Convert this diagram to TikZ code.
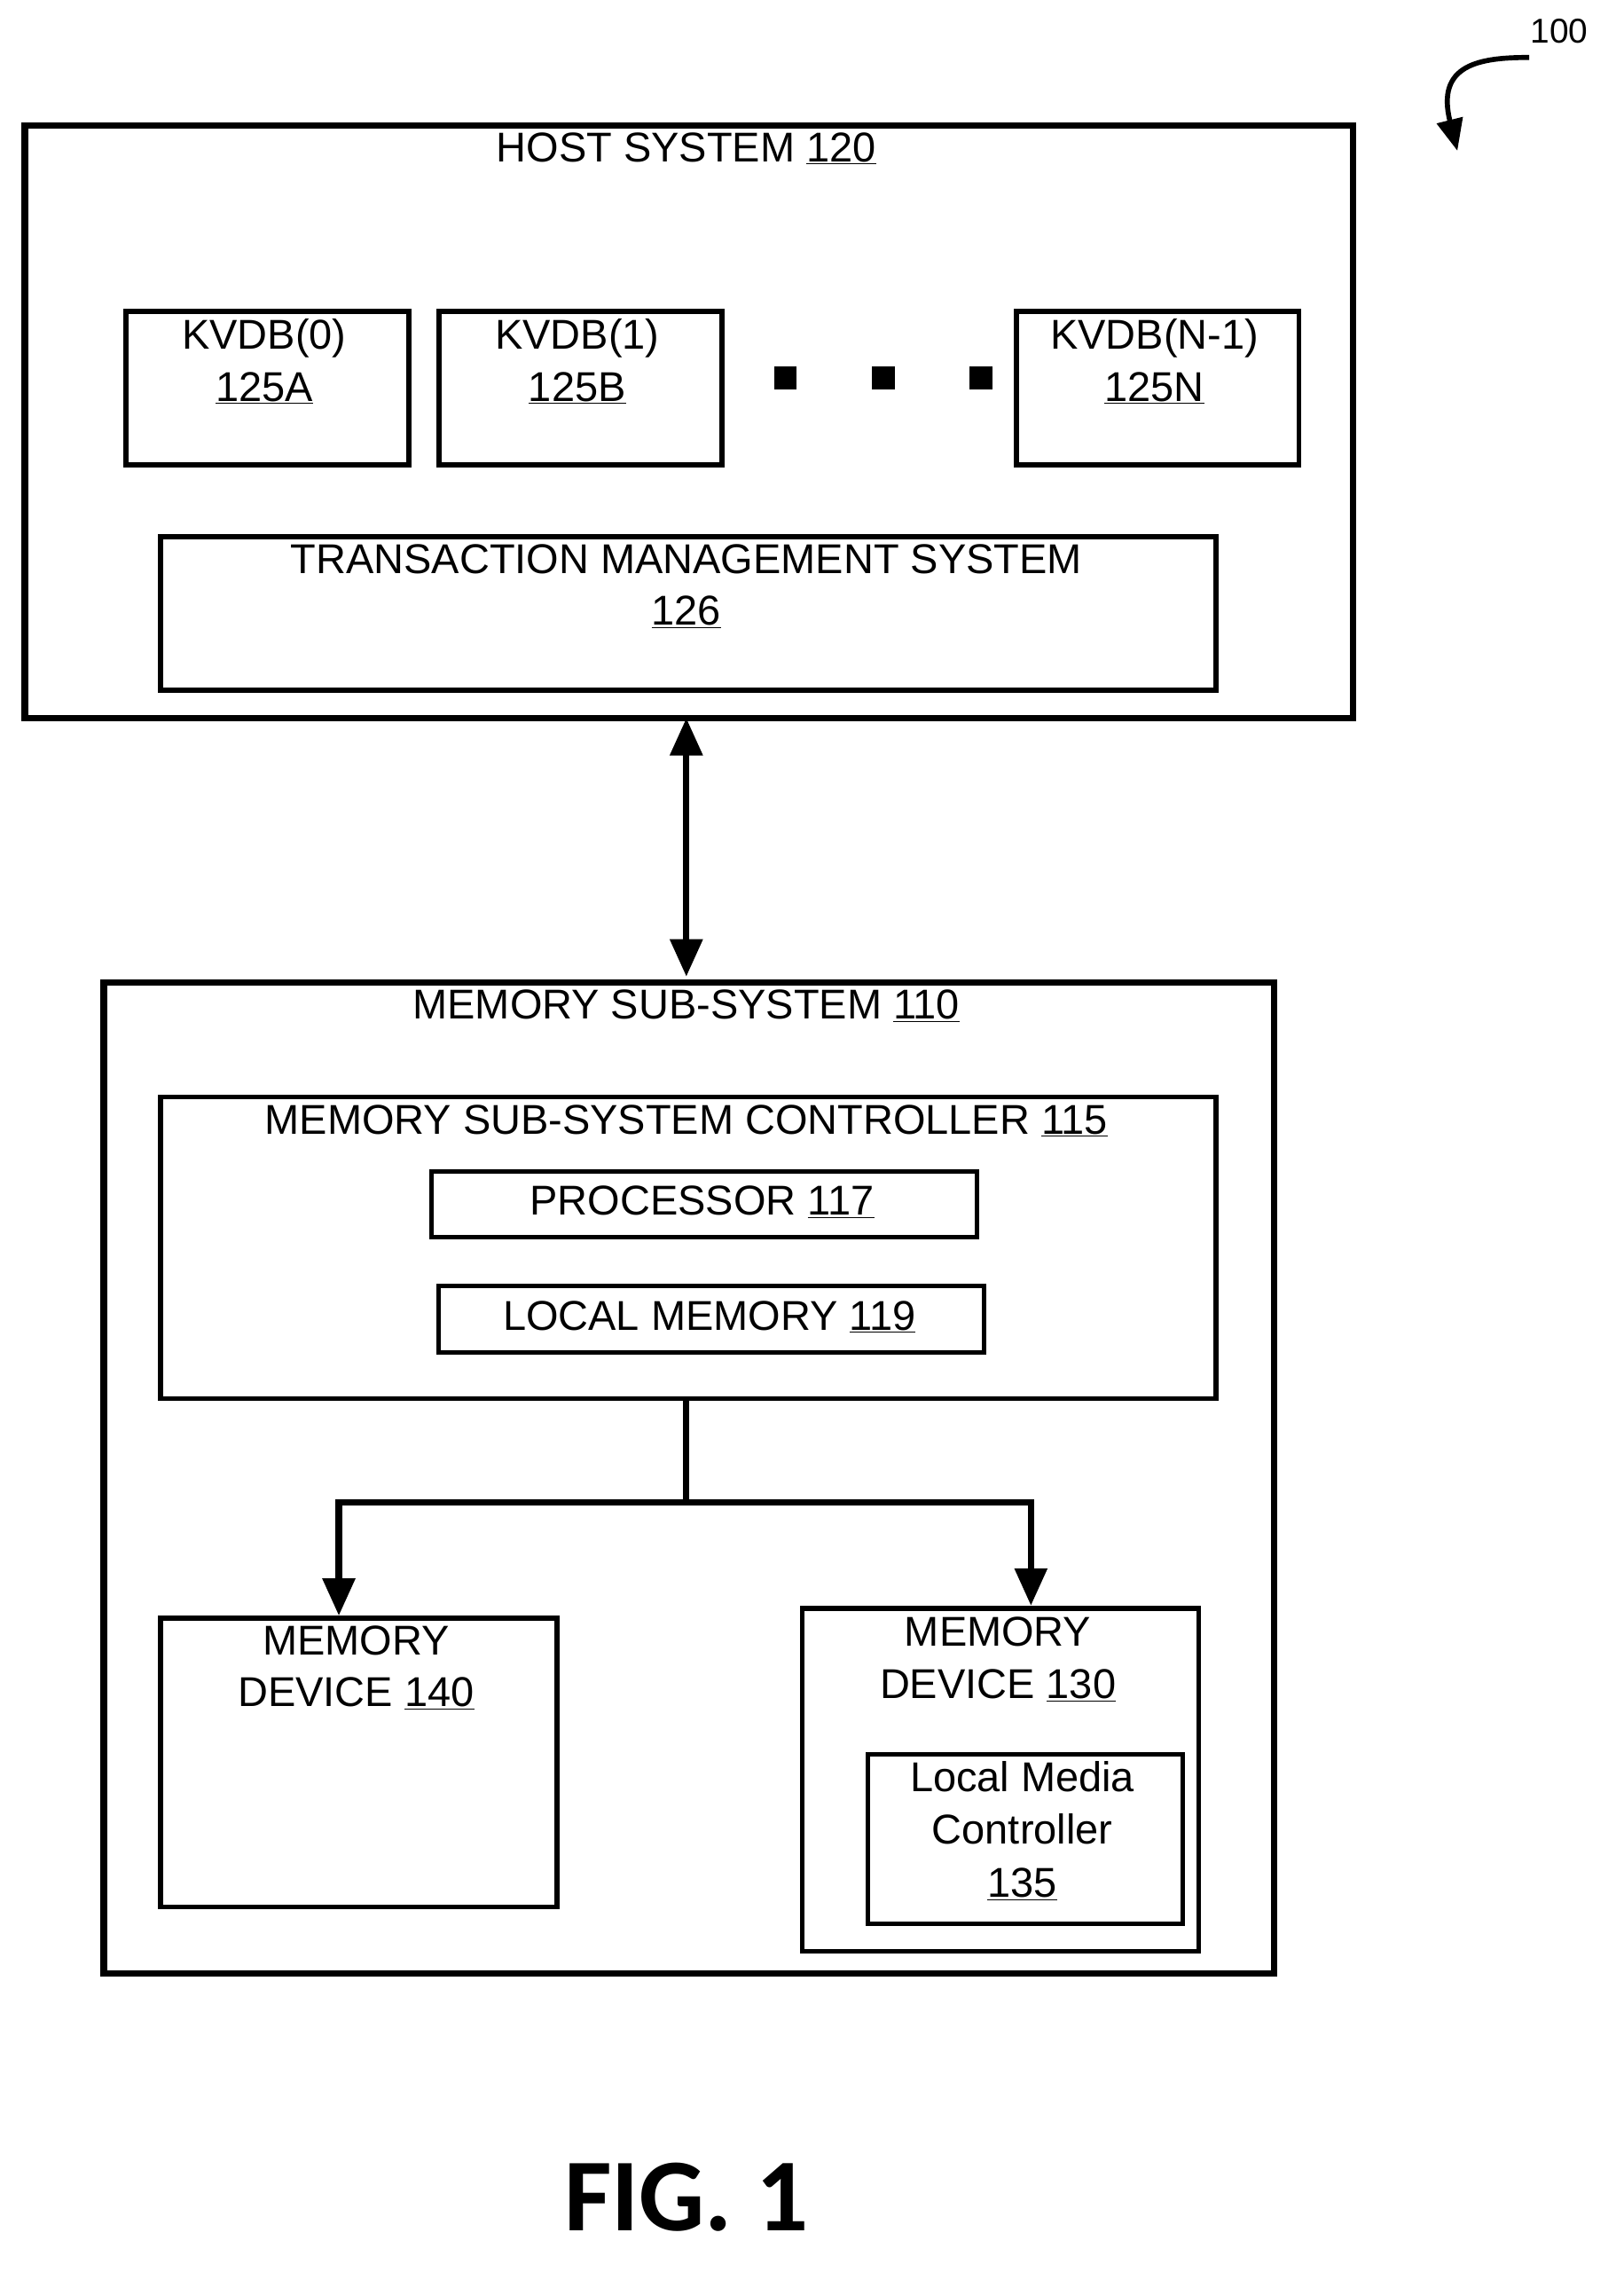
\documentclass[tikz,border=0pt]{standalone}
\usepackage{fontspec}
\setmainfont{Liberation Sans}
\newfontfamily\figfont{Carlito}
\usetikzlibrary{arrows.meta}
\newcommand{\ul}[1]{\underline{#1}}
\begin{document}
\begin{tikzpicture}[x=1pt,y=-1pt,
  box/.style={draw,line width=4.5pt},
  sbox/.style={draw,line width=3.5pt},
  lbl/.style={font=\fontsize{29}{36}\selectfont,align=center,inner sep=0pt},
  conn/.style={line width=4.5pt},
  arr/.style={conn,-{Triangle[length=26pt,width=22pt]}}]
\useasboundingbox (0,0) rectangle (1131,1582);
\node[box,minimum width=925pt,minimum height=413pt,anchor=north west] (host) at (15,85) {};
\node[lbl,anchor=north] (hostl) at (478,92) {HOST SYSTEM \ul{120}};
\foreach \n/\x/\t/\s in {k0/86/KVDB(0)/125A,k1/304/KVDB(1)/125B,kn/706/KVDB(N-1)/125N}
  \node[sbox,minimum width=197pt,minimum height=107pt,anchor=north west] (\n) at (\x,215) {};
\node[lbl,anchor=north] at (184,222) {KVDB(0)\\\ul{125A}};
\node[lbl,anchor=north] at (402,222) {KVDB(1)\\\ul{125B}};
\node[lbl,anchor=north] at (804,222) {KVDB(N-1)\\\ul{125N}};
\foreach \x in {547,615,683} \fill (\x-8,255) rectangle (\x+8,271);
\node[sbox,minimum width=735pt,minimum height=107pt,anchor=north west] (tms) at (110,372) {};
\node[lbl,anchor=north] at (478,379) {TRANSACTION MANAGEMENT SYSTEM\\\ul{126}};
\node[box,minimum width=815pt,minimum height=690pt,anchor=north west] (mss) at (70,682) {};
\node[lbl,anchor=north] at (478,689) {MEMORY SUB-SYSTEM \ul{110}};
\node[sbox,minimum width=735pt,minimum height=210pt,anchor=north west] (ctl) at (110,762) {};
\node[lbl,anchor=north] at (478,769) {MEMORY SUB-SYSTEM CONTROLLER \ul{115}};
\node[sbox,line width=3pt,minimum width=380pt,minimum height=46pt,anchor=north west] (proc) at (299,814) {};
\node[lbl,anchor=center] at (489,837) {PROCESSOR \ul{117}};
\node[sbox,line width=3pt,minimum width=380pt,minimum height=46pt,anchor=north west] (lm) at (304,894) {};
\node[lbl,anchor=center] at (494,917) {LOCAL MEMORY \ul{119}};
\node[sbox,minimum width=276pt,minimum height=201pt,anchor=north west] (md140) at (110,1125) {};
\node[lbl,anchor=north] at (248,1132) {MEMORY\\DEVICE \ul{140}};
\node[sbox,minimum width=276pt,minimum height=239pt,anchor=north west] (md130) at (557,1118) {};
\node[lbl,anchor=north] at (695,1126) {MEMORY\\DEVICE \ul{130}};
\node[sbox,line width=3pt,minimum width=219pt,minimum height=118pt,anchor=north west] (lmc) at (603,1220) {};
\node[lbl,anchor=north,font=\fontsize{29}{37}\selectfont] at (712,1226) {Local Media\\Controller\\\ul{135}};
\draw[conn,{Triangle[length=26pt,width=22pt]}-{Triangle[length=26pt,width=22pt]}] (478,500) -- (478,680);
\coordinate (j) at (478,1046);
\draw[conn] (ctl.south -| j) -- (j);
\draw[arr] (j) -- (236,1046) -- (md140.north -| 236,0);
\draw[arr] (j) -- (718,1046) -- (md130.north -| 718,0);
\node[font=\fontsize{24}{28}\selectfont,inner sep=0pt] (l100) at (1086,22) {100};
\draw[line width=3.5pt,-{Triangle[length=22pt,width=18pt]}] (1065,40) .. controls (1030,40) and (1000,45) .. (1015,105);
\node[font=\figfont\bfseries\fontsize{72}{80}\selectfont,inner sep=0pt] (fig) at (478,1530) {FIG. 1};
\end{tikzpicture}
\end{document}
